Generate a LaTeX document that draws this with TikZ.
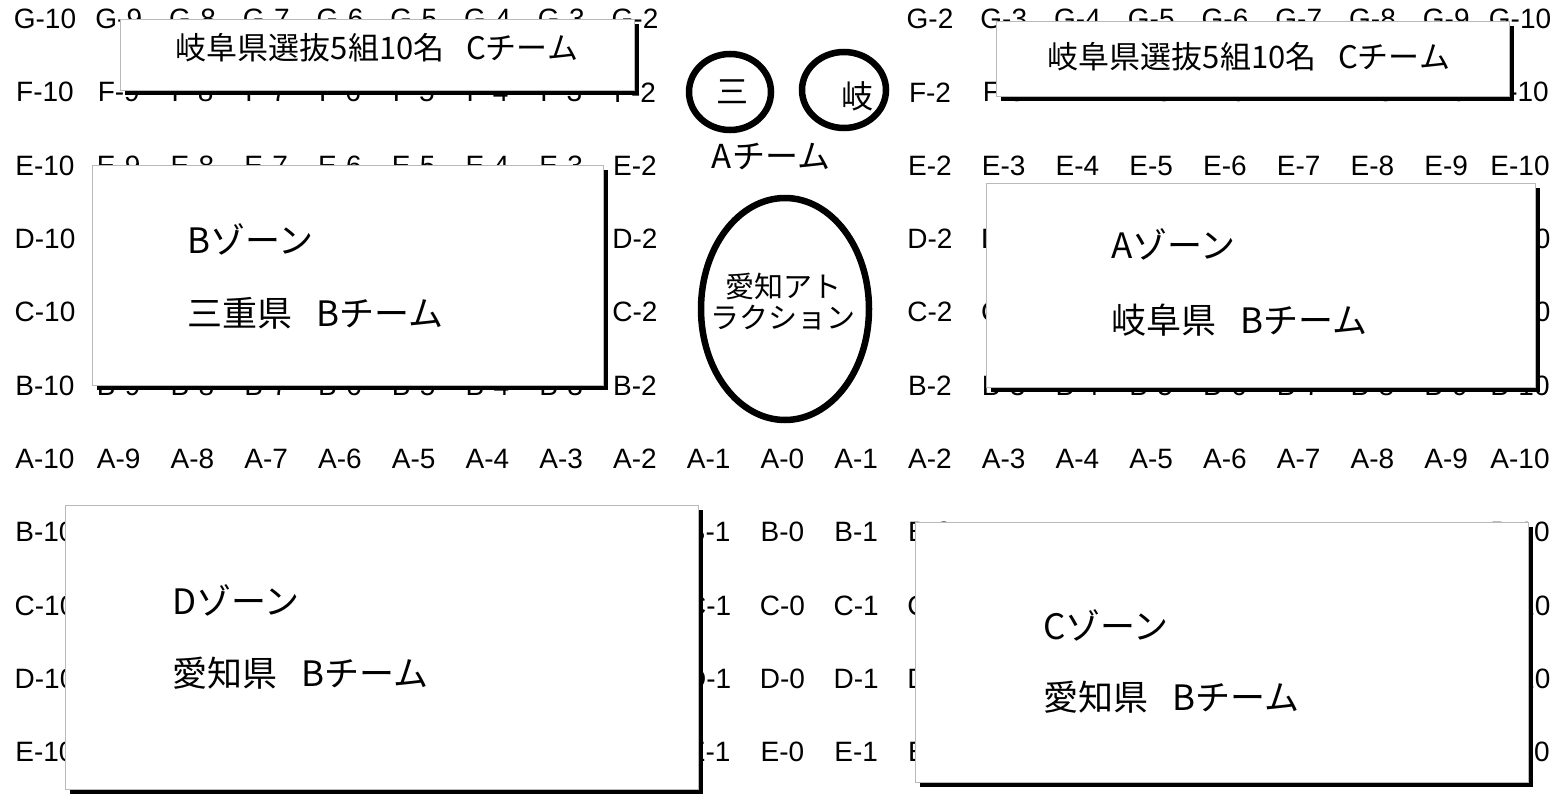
\documentclass[tikz,border=0pt]{standalone}
\usepackage{fontspec}
\setmainfont{Liberation Sans}
\newfontfamily\jpfont{Noto Sans CJK JP}
\usetikzlibrary{shapes.geometric,shadows}

\tikzset{
  seat/.style={font=\fontsize{28}{30}\selectfont, inner sep=0pt},
  panel/.style={draw=gray!55, line width=0.8pt, fill=white, anchor=north west, inner sep=0pt,
    drop shadow={shadow xshift=4.5pt, shadow yshift=-4.5pt, fill=black, opacity=1}},
  ring/.style={ellipse, draw, line width=6.5pt, inner sep=0pt},
  jp/.style={font=\jpfont\fontsize{31}{33}\selectfont, inner sep=0pt},
  ringtext/.style={font=\jpfont\fontsize{32}{34}\selectfont, inner sep=0pt},
  zonetext/.style={font=\jpfont\fontsize{35}{38}\selectfont, inner sep=0pt, anchor=west},
}

\begin{document}
\begin{tikzpicture}[x=1pt,y=-1pt]
\useasboundingbox (0,0) rectangle (1561,795);
% seat numbers, upper rows (only where they show)
\foreach \r/\j in {G/0,F/1,E/2,B/5} {
  \foreach \n [count=\i from 0] in {10,9,...,2}
    \node[seat] (s\j-\i) at (45+73.75*\i, 19+73.3*\j) {\r-\n};
  \foreach \n [count=\i from 12] in {2,3,...,10}
    \node[seat] (s\j-\i) at (45+73.75*\i, 19+73.3*\j) {\r-\n};
}
\foreach \r/\j in {D/3,C/4}
  \foreach \i/\n in {0/10,8/2,12/2,13/3,20/10}
    \node[seat] (s\j-\i) at (45+73.75*\i, 19+73.3*\j) {\r-\n};
% A row
\foreach \n [count=\i from 0] in {10,9,8,7,6,5,4,3,2,1,0,1,2,3,4,5,6,7,8,9,10}
  \node[seat] (s6-\i) at (45+73.75*\i, 19+73.3*6) {A-\n};
% lower rows
\foreach \r [count=\j from 7] in {B,C,D,E}
  \foreach \i/\n in {0/10,9/1,10/0,11/1,12/2,20/10}
    \node[seat] (s\j-\i) at (45+73.75*\i, 19+73.3*\j) {\r-\n};

% C team
\node[panel, minimum width=514pt, minimum height=71pt] (cteamL) at (120,19) {};
\node[jp] (cteamLtxt) at (377,48) {岐阜県選抜5組10名\hspace{0.7em}Cチーム};
\node[panel, minimum width=513pt, minimum height=75pt] (cteamR) at (996,21) {};
\node[jp] (cteamRtxt) at (1249,57) {岐阜県選抜5組10名\hspace{0.7em}Cチーム};

% zones
\node[panel, minimum width=511pt, minimum height=220pt] (zoneB) at (92,165) {};
\node[zonetext] (zoneBname) at (187,239) {Bゾーン};
\node[zonetext] (zoneBteam) at (187,313) {三重県\hspace{0.7em}Bチーム};

\node[panel, minimum width=549pt, minimum height=204pt] (zoneA) at (986,183) {};
\node[zonetext] (zoneAname) at (1111,244) {Aゾーン};
\node[zonetext] (zoneAteam) at (1111,320) {岐阜県\hspace{0.7em}Bチーム};

\node[panel, minimum width=633pt, minimum height=284pt] (zoneD) at (65,505) {};
\node[zonetext] (zoneDname) at (172,600) {Dゾーン};
\node[zonetext] (zoneDteam) at (172,673) {愛知県\hspace{0.7em}Bチーム};

\node[panel, minimum width=613pt, minimum height=260pt] (zoneC) at (915,522) {};
\node[zonetext] (zoneCname) at (1043,625) {Cゾーン};
\node[zonetext] (zoneCteam) at (1043,697) {愛知県\hspace{0.7em}Bチーム};

% A team
\node[ring, minimum width=82pt, minimum height=76pt] (mie) at (730,92) {};
\node[ringtext] (mietxt) at (732,92) {三};
\node[ring, minimum width=84pt, minimum height=76pt] (gifu) at (844,90) {};
\node[ringtext] (gifutxt) at (857,96) {岐};
\node[ringtext, font=\jpfont\fontsize{33}{35}\selectfont] (ateam) at (771,157) {Aチーム};

% attraction
\node[ring, minimum width=168pt, minimum height=222pt] (aichi) at (785,309) {};
\node[ringtext, align=center, font=\jpfont\fontsize{29}{31}\selectfont] (aichitxt) at (783,302) {愛知アト\\ラクション};
\end{tikzpicture}
\end{document}
